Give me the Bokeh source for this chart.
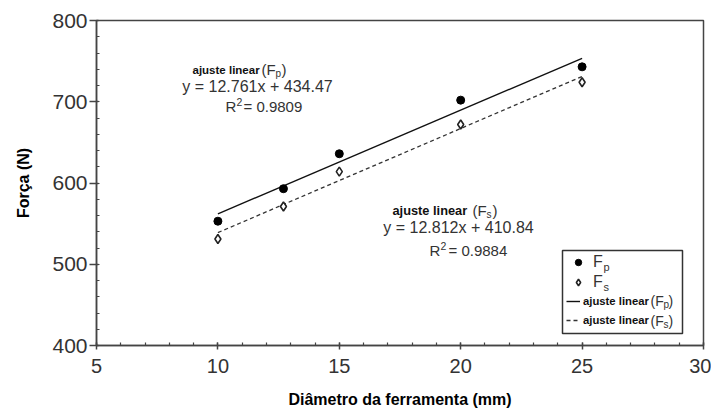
from bokeh.plotting import figure
from bokeh.models import (Range1d, SingleIntervalTicker, Label, Legend, LegendItem,
                          BoxAnnotation)
from bokeh.embed import file_html
from bokeh.resources import INLINE

# ---- data ----
diametro = [10, 12.7, 15, 20, 25]
forca_p = [553, 593, 636, 702, 743]
forca_s = [531, 571, 614, 672, 724]
ajuste_p = [12.761, 434.47, 0.9809]   # slope, intercept, R2
ajuste_s = [12.812, 410.84, 0.9884]
x_ticks = [5, 10, 15, 20, 25, 30]
y_ticks = [400, 500, 600, 700, 800]

FONT = "Liberation Sans"

# frame geometry (pixels) used only to place annotations
FL, FR, FT, FB = 96, 703, 20, 345
W, H = 711, 416
X0, X1, Y0, Y1 = x_ticks[0], x_ticks[-1], y_ticks[0], y_ticks[-1]


def px2x(px):
    return X0 + (px - FL) / (FR - FL) * (X1 - X0)


def py2y(py):
    return Y1 - (py - FT) / (FB - FT) * (Y1 - Y0)


p = figure(width=W, height=H, output_backend="svg", toolbar_location=None,
           x_range=Range1d(X0, X1), y_range=Range1d(Y0, Y1),
           min_border_left=FL, min_border_right=W - FR, min_border_top=FT,
           min_border_bottom=H - FB)

p.xgrid.visible = False
p.ygrid.visible = False
p.outline_line_color = "#444444"
p.outline_line_width = 1.5
p.background_fill_color = "white"

p.xaxis.ticker = SingleIntervalTicker(interval=5, num_minor_ticks=5)
p.yaxis.ticker = SingleIntervalTicker(interval=100, num_minor_ticks=5)
for ax in (p.xaxis[0], p.yaxis[0]):
    ax.axis_line_color = "#444444"
    ax.axis_line_width = 1.5
    ax.major_tick_line_color = "#444444"
    ax.major_tick_line_width = 1.5
    ax.minor_tick_line_color = "#444444"
    ax.minor_tick_line_width = 1.2
    ax.minor_tick_out = 0
    ax.minor_tick_in = 3
    ax.major_label_text_font = FONT
    ax.major_label_text_color = "#333333"
    ax.axis_label_text_font = FONT
    ax.axis_label_text_font_size = "16px"
    ax.axis_label_text_font_style = "bold"
    ax.axis_label_text_color = "black"

p.xaxis.axis_label = "Diâmetro da ferramenta (mm)"
p.yaxis.axis_label = "Força (N)"
p.xaxis.major_tick_out = 4
p.xaxis.major_tick_in = 3
p.xaxis.major_label_text_font_size = "20px"
p.xaxis.major_label_standoff = 9
p.xaxis.axis_label_standoff = 15
p.yaxis.major_tick_out = 7
p.yaxis.major_tick_in = 2
p.yaxis.major_label_text_font_size = "21px"
p.yaxis.major_label_standoff = 2
p.yaxis.axis_label_standoff = 17

# ---- fit lines ----
xs_fit = [min(diametro), max(diametro)]
yp_fit = [ajuste_p[0] * x + ajuste_p[1] for x in xs_fit]
ys_fit = [ajuste_s[0] * x + ajuste_s[1] for x in xs_fit]

r_lp = p.line(xs_fit, yp_fit, line_color="#111111", line_width=1.4)
r_ls = p.line(xs_fit, ys_fit, line_color="#333333", line_width=1.3, line_dash="4 3")

r_p = p.scatter(diametro, forca_p, marker="circle", size=8, fill_color="black",
                line_color="black")
r_s = p.scatter(diametro, forca_s, marker="diamond", size=9, fill_color="white",
                line_color="#222222", line_width=1.6)

# ---- legends ----
leg1 = Legend(items=[LegendItem(label="F", renderers=[r_p]),
                     LegendItem(label="F", renderers=[r_s])],
              location=(468, 48), glyph_width=16, glyph_height=18, spacing=2,
              padding=6, label_standoff=7, label_text_font=FONT,
              label_text_font_size="16px", label_text_color="#333333",
              border_line_alpha=0, background_fill_alpha=0, margin=0)
leg2 = Legend(items=[LegendItem(label="ajuste linear", renderers=[r_lp]),
                     LegendItem(label="ajuste linear", renderers=[r_ls])],
              location=(466, 13), glyph_width=14, glyph_height=16, spacing=3,
              padding=4, label_standoff=3, label_text_font=FONT,
              label_text_font_size="11.3px", label_text_font_style="bold",
              label_text_color="#111111",
              border_line_alpha=0, background_fill_alpha=0, margin=0)
p.add_layout(leg1)
p.add_layout(leg2)
p.add_layout(BoxAnnotation(left=px2x(562), right=px2x(682), bottom=py2y(333),
                           top=py2y(250), fill_alpha=0, line_color="#333333",
                           line_width=1.5, line_alpha=1))


# ---- annotations ----
def txt(px, py, s, size, bold=False, align="left", color="#333333"):
    p.add_layout(Label(x=px2x(px), y=py2y(py), text=s, text_font=FONT,
                       text_font_size=size,
                       text_font_style="bold" if bold else "normal",
                       text_align=align, text_baseline="middle", text_color=color))


# legend subscripts and "(F..)" parts
txt(603, 266, "p", "11px")
txt(603, 286, "s", "11px")
txt(650, 300, "(F", "14px")
txt(663, 304, "p", "10px")
txt(668, 300, ")", "14px")
txt(650, 320, "(F", "14px")
txt(663, 324, "s", "10px")
txt(668, 320, ")", "14px")

# block for F_p fit
txt(192, 69, "ajuste linear", "11.5px", bold=True, color="#111111")
txt(261, 69, "(F", "15px")
txt(275, 73, "p", "10px")
txt(281, 69, ")", "15px")
txt(257, 86, f"y = {ajuste_p[0]:.3f}x + {ajuste_p[1]:.2f}", "16px", align="center")
txt(225, 106, "R", "15px")
txt(236, 101, "2", "10.5px")
txt(243, 106, f"= {ajuste_p[2]:.4f}", "15px")

# block for F_s fit
txt(392, 210, "ajuste linear", "12.8px", bold=True, color="#111111")
txt(472, 210, "(F", "15px")
txt(486, 214, "s", "10px")
txt(492, 210, ")", "15px")
txt(458, 227, f"y = {ajuste_s[0]:.3f}x + {ajuste_s[1]:.2f}", "16px", align="center")
txt(429, 250, "R", "15px")
txt(440, 245, "2", "10.5px")
txt(448, 250, f"= {ajuste_s[2]:.4f}", "15px")

open("out.html", "w").write(file_html(p, INLINE))
